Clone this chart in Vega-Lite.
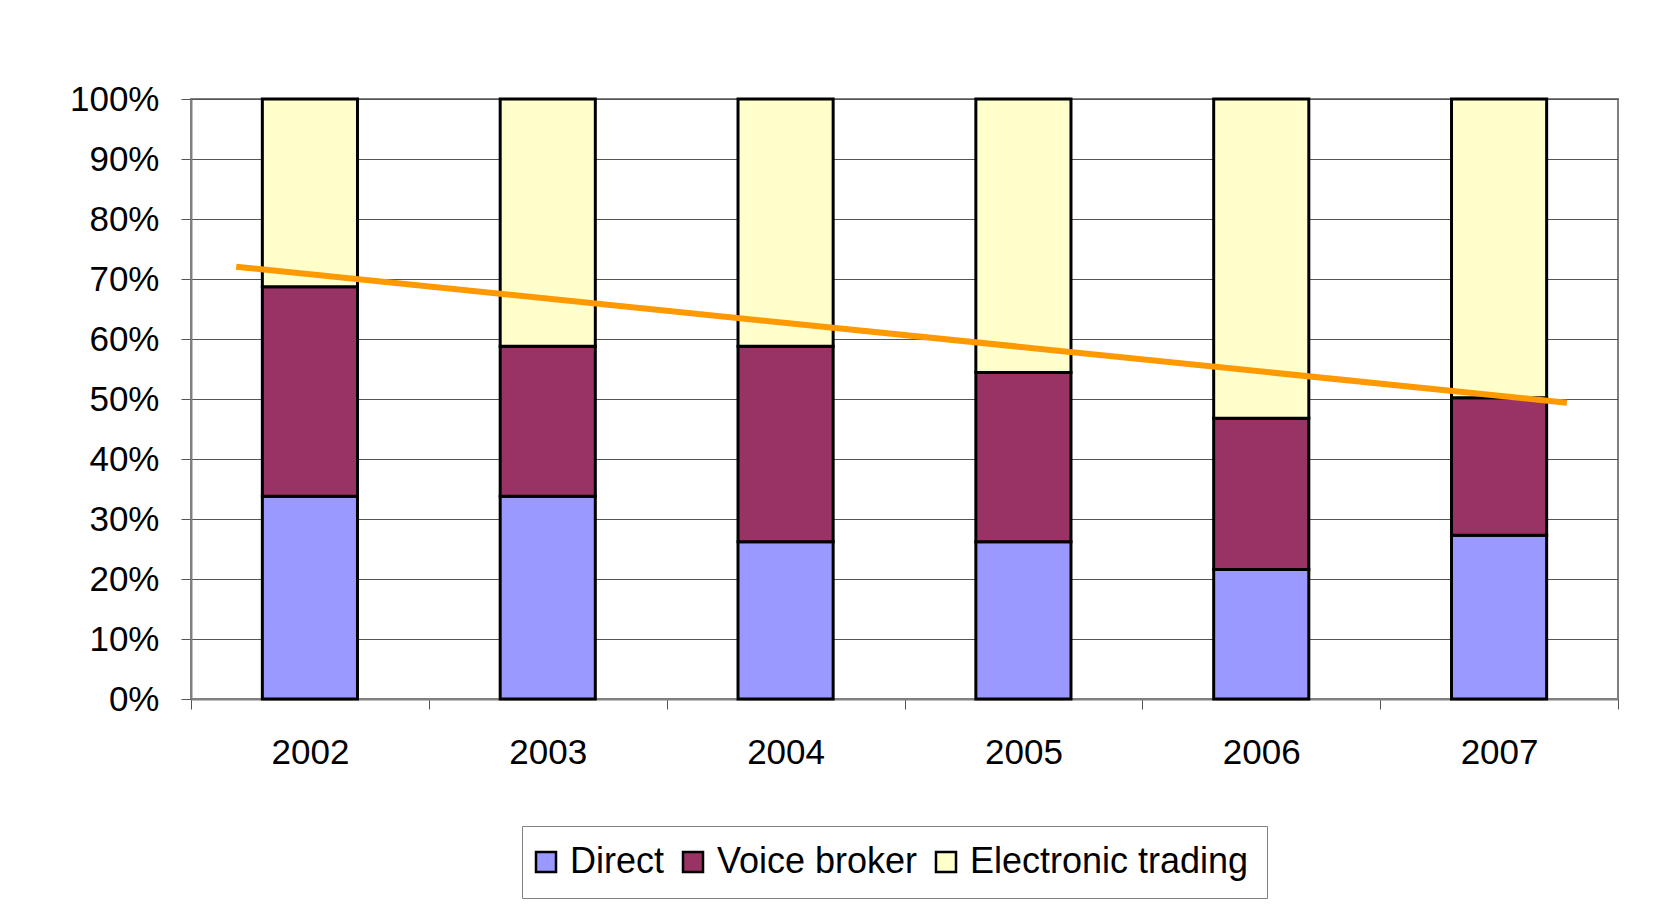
{
  "$schema": "https://vega.github.io/schema/vega-lite/v6.json",
  "width": 1427,
  "height": 600,
  "autosize": {"type": "none"},
  "padding": {"left": 191, "top": 99, "right": 37, "bottom": 223},
  "background": "white",
  "config": {
    "font": "Liberation Sans",
    "view": {"stroke": "#808080", "strokeWidth": 2}
  },
  "datasets": {
    "shares": [
      {"year": "2002", "channel": "Direct", "rank": 1, "value": 33.8},
      {"year": "2002", "channel": "Voice broker", "rank": 2, "value": 34.9},
      {"year": "2002", "channel": "Electronic trading", "rank": 3, "value": 31.3},
      {"year": "2003", "channel": "Direct", "rank": 1, "value": 33.8},
      {"year": "2003", "channel": "Voice broker", "rank": 2, "value": 25.0},
      {"year": "2003", "channel": "Electronic trading", "rank": 3, "value": 41.2},
      {"year": "2004", "channel": "Direct", "rank": 1, "value": 26.2},
      {"year": "2004", "channel": "Voice broker", "rank": 2, "value": 32.6},
      {"year": "2004", "channel": "Electronic trading", "rank": 3, "value": 41.2},
      {"year": "2005", "channel": "Direct", "rank": 1, "value": 26.2},
      {"year": "2005", "channel": "Voice broker", "rank": 2, "value": 28.2},
      {"year": "2005", "channel": "Electronic trading", "rank": 3, "value": 45.6},
      {"year": "2006", "channel": "Direct", "rank": 1, "value": 21.6},
      {"year": "2006", "channel": "Voice broker", "rank": 2, "value": 25.2},
      {"year": "2006", "channel": "Electronic trading", "rank": 3, "value": 53.2},
      {"year": "2007", "channel": "Direct", "rank": 1, "value": 27.3},
      {"year": "2007", "channel": "Voice broker", "rank": 2, "value": 22.9},
      {"year": "2007", "channel": "Electronic trading", "rank": 3, "value": 49.8}
    ],
    "trend": [
      {"yr": 2001.69, "share": 0.7205},
      {"yr": 2007.285, "share": 0.4938}
    ]
  },
  "layer": [
    {
      "data": {"name": "shares"},
      "mark": {"type": "bar", "stroke": "black", "strokeWidth": 3, "width": {"band": 0.4}},
      "encoding": {
        "x": {
          "field": "year",
          "type": "ordinal",
          "scale": {"paddingInner": 0, "paddingOuter": 0},
          "axis": {
            "title": null,
            "labelAngle": 0,
            "labelFontSize": 35,
            "labelColor": "black",
            "labelPadding": 26,
            "tickSize": 10,
            "tickColor": "#555555",
            "tickBand": "extent",
            "grid": false,
            "domainColor": "#808080",
            "domainWidth": 2
          }
        },
        "y": {
          "field": "value",
          "type": "quantitative",
          "stack": "normalize",
          "scale": {"domain": [0, 1], "nice": false},
          "axis": {
            "title": null,
            "values": [0, 0.1, 0.2, 0.3, 0.4, 0.5, 0.6, 0.7, 0.8, 0.9, 1],
            "format": ".0%",
            "labelFontSize": 35,
            "labelColor": "black",
            "labelPadding": 22,
            "tickSize": 10,
            "tickColor": "#555555",
            "grid": true,
            "gridColor": "#555555",
            "gridWidth": 1,
            "gridOpacity": 1,
            "domainColor": "#808080",
            "domainWidth": 2
          }
        },
        "order": {"field": "rank", "type": "quantitative", "sort": "ascending"},
        "color": {
          "field": "channel",
          "type": "nominal",
          "sort": ["Direct", "Voice broker", "Electronic trading"],
          "scale": {
            "domain": ["Direct", "Voice broker", "Electronic trading"],
            "range": ["#9999FF", "#993366", "#FFFFCC"]
          },
          "legend": {
            "title": null,
            "orient": "none",
            "legendX": 331,
            "legendY": 727,
            "direction": "horizontal",
            "symbolType": "square",
            "symbolSize": 400,
            "symbolStrokeColor": "black",
            "symbolStrokeWidth": 2.5,
            "symbolOpacity": 1,
            "symbolOffset": -12,
            "labelFontSize": 36,
            "labelLimit": 500,
            "labelColor": "black",
            "labelOffset": 6,
            "columnPadding": 13,
            "strokeColor": "#808080",
            "fillColor": "white",
            "padding": 18
          }
        }
      }
    },
    {
      "data": {"name": "trend"},
      "mark": {"type": "line", "color": "#FF9900", "strokeWidth": 6},
      "encoding": {
        "x": {
          "field": "yr",
          "type": "quantitative",
          "scale": {"domain": [2001.5, 2007.5], "nice": false, "zero": false},
          "axis": null
        },
        "y": {"field": "share", "type": "quantitative"}
      }
    }
  ],
  "resolve": {"scale": {"x": "independent"}}
}
